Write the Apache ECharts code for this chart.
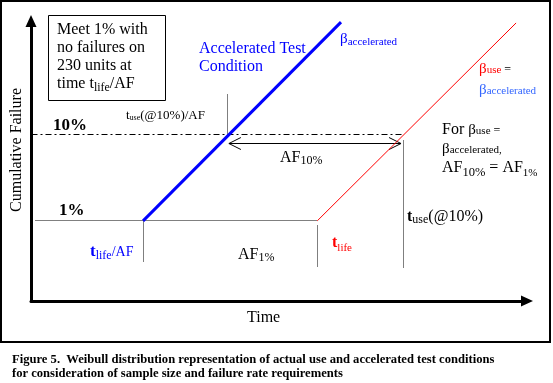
<!DOCTYPE html>
<html><head><meta charset="utf-8">
<script src="https://cdn.jsdelivr.net/npm/echarts@6/dist/echarts.min.js"></script>
<style>html,body{margin:0;padding:0;background:#fff}#c{width:553px;height:383px}</style>
</head><body><div id="c"></div>
<script>
// ---- data (diagram units: time 0..100, cumulative failure 0..100) ----
const acceleratedCurve = [[22.6, 28.6], [62.5, 99.6]];
const useCurve = [[57.7, 28.6], [97.8, 99.3]];
const level10 = 59.6;
const level1 = 28.6;
const tLifeOverAF = 22.6;
const tLife = 57.7;
const tUse10OverAF = 39.7;
const tUse10 = 75.0;
const dashDotGuides = [[0, level10, tUse10, level10]];
const dottedGuides = [
  [1.0, level1, tLife, level1],
  [tUse10OverAF, 73.9, tUse10OverAF, level10],
  [tUse10, 57.5, tUse10, 12.1],
  [tLifeOverAF, level1, tLifeOverAF, 13.9],
  [tLife, 26.8, tLife, 12.5]
];
const af10Arrow = [[39.9, 74.6, 56.1]];
const boxLines = ['Meet 1% with', 'no failures on', '230 units at'];
const captionLines = [
  'Figure 5.  Weibull distribution representation of actual use and accelerated test conditions',
  'for consideration of sample size and failure rate requirements'
];

// ---- helpers ----
const SERIF = "'Liberation Serif','Times New Roman',serif";
const K = 0.34;
function T(x, B, parts, extra) {
  const rich = {};
  let text = '';
  parts.forEach((p, i) => {
    const [str, fs, o] = p;
    const opt = o || {};
    const drop = opt.drop || 0;
    rich['r' + i] = {
      fontSize: fs, fontFamily: SERIF, fontWeight: opt.bold ? 'bold' : 'normal',
      fill: opt.color || '#000', verticalAlign: 'top',
      height: 2 * (20 + drop - K * fs)
    };
    text += '{r' + i + '|' + str + '}';
  });
  return Object.assign({
    type: 'text', x: x, y: B - 20, silent: true,
    style: { text: text, rich: rich, align: 'left', verticalAlign: 'top' }
  }, extra || {});
}
const BLUE = '#0000ff', RED = '#ff0000', LBLUE = '#3366ff';

const graphics = [
  { type: 'rect', shape: { x: 1, y: 1, width: 549, height: 341 }, style: { fill: 'none', stroke: '#000', lineWidth: 2 }, silent: true },
  { type: 'rect', shape: { x: 48.5, y: 15.5, width: 117, height: 85 }, style: { fill: 'none', stroke: '#000', lineWidth: 1 }, silent: true },
  T(57, 35, [[boxLines[0], 16]]),
  T(57, 53, [[boxLines[1], 16]]),
  T(57, 71, [[boxLines[2], 16]]),
  T(57, 89, [['time t', 16], ['life', 12, { drop: 3 }], ['/AF', 16]]),
  T(199, 54, [['Accelerated Test', 16, { color: BLUE }]]),
  T(199, 72, [['Condition', 16, { color: BLUE }]]),
  T(340, 44, [['β', 15, { color: BLUE }], ['accelerated', 11, { color: BLUE, drop: 2 }]]),
  T(479, 74, [['β', 15, { color: RED }], ['use', 11, { color: RED }], [' =', 12]]),
  T(479, 95, [['β', 15, { color: LBLUE }], ['accelerated', 11, { color: LBLUE }]]),
  T(442, 135, [['For ', 16], ['β', 15], ['use', 11], [' =', 12]]),
  T(442, 154, [['β', 15], ['accelerated,', 11]]),
  T(442, 173, [['AF', 16], ['10%', 12.5, { drop: 4 }], [' = AF', 16], ['1%', 11, { drop: 4 }]]),
  T(53, 131, [['10%', 17, { bold: true }]]),
  T(59, 216, [['1%', 17, { bold: true }]]),
  T(126, 120, [['t', 13], ['use', 8, { drop: 1 }], ['(@10%)/AF', 13]]),
  T(280, 163, [['AF', 16], ['10%', 12, { drop: 2 }]]),
  T(90, 257, [['t', 17, { bold: true, color: BLUE }], ['life', 12, { color: BLUE, drop: 3 }], ['/AF', 14, { color: BLUE }]]),
  T(238, 260, [['AF', 16], ['1%', 12, { drop: 2 }]]),
  T(332, 248, [['t', 16, { bold: true, color: RED }], ['life', 11, { color: RED, drop: 4 }]]),
  T(407, 222, [['t', 16, { bold: true }], ['use', 12, { drop: 2 }], ['(@10%)', 16]]),
  { type: 'text', x: 17, y: 150, rotation: Math.PI / 2, silent: true,
    style: { text: 'Cumulative Failure', fontSize: 16, fontFamily: SERIF, fill: '#000', align: 'center', verticalAlign: 'middle' } },
  T(247, 323, [['Time', 16]]),
  T(12, 364, [[captionLines[0], 12.6, { bold: true }]]),
  T(12, 378, [[captionLines[1], 12.6, { bold: true }]])
];

function crisp(v) { return Math.round(v - 0.5) + 0.5; }
function segRender(dash) {
  return function (params, api) {
    const p1 = api.coord([api.value(0), api.value(1)]);
    const p2 = api.coord([api.value(2), api.value(3)]);
    return { type: 'line', silent: true,
      shape: { x1: crisp(p1[0]), y1: crisp(p1[1]), x2: crisp(p2[0]), y2: crisp(p2[1]) },
      style: { stroke: '#000', lineWidth: 1, lineDash: dash } };
  };
}

const chart = echarts.init(document.getElementById('c'), null, { renderer: 'canvas' });
chart.setOption({
  animation: false,
  backgroundColor: '#fff',
  grid: { left: 31, top: 21, right: 26, bottom: 82 },
  xAxis: { type: 'value', min: 0, max: 100,
    axisLine: { show: true, onZero: false, symbol: ['none', 'triangle'], symbolSize: [11, 12], lineStyle: { color: '#000', width: 3 } },
    axisTick: { show: false }, axisLabel: { show: false }, splitLine: { show: false } },
  yAxis: { type: 'value', min: 0, max: 100,
    axisLine: { show: true, onZero: false, symbol: ['none', 'triangle'], symbolSize: [11, 12], lineStyle: { color: '#000', width: 3 } },
    axisTick: { show: false }, axisLabel: { show: false }, splitLine: { show: false } },
  series: [
    { type: 'custom', renderItem: segRender([6, 3, 2, 3]), data: dashDotGuides, encode: { x: [0, 2], y: [1, 3] }, silent: true },
    { type: 'custom', renderItem: segRender([1, 1]), data: dottedGuides, encode: { x: [0, 2], y: [1, 3] }, silent: true },
    { type: 'line', data: acceleratedCurve, symbol: 'none', silent: true, lineStyle: { color: BLUE, width: 3 }, z: 3 },
    { type: 'line', data: useCurve, symbol: 'none', silent: true, lineStyle: { color: RED, width: 1 }, z: 3 },
    { type: 'custom', data: af10Arrow, encode: { x: [0, 1], y: 2 }, silent: true,
      renderItem: function (params, api) {
        const a = api.coord([api.value(0), api.value(2)]);
        const b = api.coord([api.value(1), api.value(2)]);
        const y = crisp(a[1]);
        const st = { stroke: '#000', lineWidth: 1, fill: 'none' };
        return { type: 'group', children: [
          { type: 'line', shape: { x1: a[0], y1: y, x2: b[0], y2: y }, style: st },
          { type: 'polyline', shape: { points: [[a[0] + 12, y - 6], [a[0], y], [a[0] + 12, y + 6]] }, style: st },
          { type: 'polyline', shape: { points: [[b[0] - 12, y - 6], [b[0], y], [b[0] - 12, y + 6]] }, style: st }
        ] };
      } }
  ],
  graphic: graphics
});
</script></body></html>
